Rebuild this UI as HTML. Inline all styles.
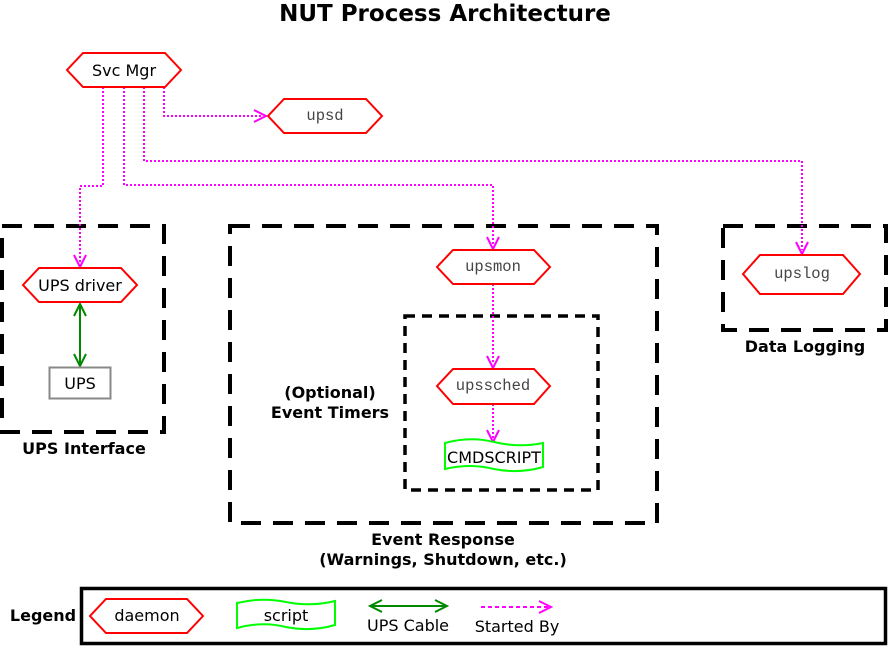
<!DOCTYPE html>
<html><head><meta charset="utf-8"><style>
html,body{margin:0;padding:0;background:#fff}
svg{display:block}
text{font-family:"DejaVu Sans","Liberation Sans",sans-serif}
.m{font-family:"Liberation Mono","DejaVu Sans Mono",monospace;fill:#444;font-size:15.5px}
.b{font-weight:bold;font-size:16px}
.hx{fill:#fff;stroke:#f00;stroke-width:2}
.sb{fill:none;stroke:#f0f;stroke-width:2;stroke-dasharray:2 2}
.ah{fill:none;stroke:#f0f;stroke-width:2}
.d1{fill:none;stroke:#000;stroke-width:4;stroke-dasharray:20 12}
.d2{fill:none;stroke:#000;stroke-width:3.5;stroke-dasharray:10 7}
</style></head><body>
<svg width="890" height="647" viewBox="0 0 890 647" xmlns="http://www.w3.org/2000/svg">
<text x="445" y="21" text-anchor="middle" style="font-weight:bold;font-size:23px">NUT Process Architecture</text>

<rect class="d1" x="2" y="226" width="162" height="206"/>
<rect class="d1" x="230" y="226" width="427" height="297"/>
<rect class="d2" x="405" y="316" width="193" height="174"/>
<rect class="d1" x="723" y="226" width="163" height="104"/>

<polyline class="sb" points="164,87 164,116 262,116"/>
<path class="ah" d="M254,110 L266,116 L254,122"/>
<polyline class="sb" points="144,87 144,161 802,161 802,250"/>
<path class="ah" d="M796,242 L802,254 L808,242"/>
<polyline class="sb" points="124,87 124,185 493,185 493,245"/>
<path class="ah" d="M487,237 L493,249 L499,237"/>
<polyline class="sb" points="103,87 103,186 80,186 80,263"/>
<path class="ah" d="M74,255 L80,267 L86,255"/>
<polyline class="sb" points="493,284 493,364"/>
<path class="ah" d="M487,356 L493,368 L499,356"/>
<polyline class="sb" points="493,404 493,438"/>
<path class="ah" d="M487,430 L493,442 L499,430"/>

<line x1="80" y1="304" x2="80" y2="366" stroke="#080" stroke-width="2"/>
<path d="M74,316 L80,304 L86,316 M74,354 L80,366 L86,354" fill="none" stroke="#080" stroke-width="2"/>

<polygon class="hx" points="83,53 165,53 181,70 165,87 83,87 67,70"/>
<text x="124" y="76" text-anchor="middle" font-size="16">Svc Mgr</text>
<polygon class="hx" points="284,99 366,99 382,116 366,133 284,133 268,116"/>
<text x="325" y="120" text-anchor="middle" class="m">upsd</text>
<polygon class="hx" points="39,268 121,268 137,285 121,302 39,302 23,285"/>
<text x="80" y="291" text-anchor="middle" font-size="16">UPS driver</text>
<rect x="49.5" y="367.5" width="61" height="31" fill="#fff" stroke="#888" stroke-width="2"/>
<text x="80" y="389" text-anchor="middle" font-size="16">UPS</text>
<polygon class="hx" points="453,250 534,250 550,267 534,284 453,284 437,267"/>
<text x="493" y="271" text-anchor="middle" class="m">upsmon</text>
<polygon class="hx" points="453,369 534,369 550,386 534,404 453,404 437,386"/>
<text x="493" y="390" text-anchor="middle" class="m">upssched</text>
<path d="M445,443 Q470,436 494,442 Q519,448 543,443 L543,467 Q519,474 494,469 Q470,463 445,469 Z" fill="#fff" stroke="#0f0" stroke-width="2"/>
<text x="494" y="463" text-anchor="middle" font-size="16">CMDSCRIPT</text>
<polygon class="hx" points="760,255 843,255 860,274 843,294 760,294 743,274"/>
<text x="802" y="278" text-anchor="middle" class="m">upslog</text>

<text x="84" y="454" text-anchor="middle" class="b">UPS Interface</text>
<text x="330" y="398" text-anchor="middle" class="b">(Optional)</text>
<text x="330" y="418" text-anchor="middle" class="b">Event Timers</text>
<text x="443" y="545" text-anchor="middle" class="b">Event Response</text>
<text x="443" y="565" text-anchor="middle" class="b">(Warnings, Shutdown, etc.)</text>
<text x="805" y="352" text-anchor="middle" class="b">Data Logging</text>

<rect x="81.5" y="588.5" width="804" height="55" fill="none" stroke="#000" stroke-width="3.5"/>
<text x="43" y="621" text-anchor="middle" class="b">Legend</text>
<polygon class="hx" points="106,599 187,599 203,616 187,633 106,633 90,616"/>
<text x="147" y="621" text-anchor="middle" font-size="16">daemon</text>
<path d="M237,603 Q262,597 286,602 Q311,607 335,601 L335,625 Q311,632 286,627 Q262,621 237,628 Z" fill="#fff" stroke="#0f0" stroke-width="2"/>
<text x="286" y="621" text-anchor="middle" font-size="16">script</text>
<line x1="370" y1="606" x2="447" y2="606" stroke="#080" stroke-width="2"/>
<path d="M382,600 L370,606 L382,612 M435,600 L447,606 L435,612" fill="none" stroke="#080" stroke-width="2"/>
<text x="408" y="631" text-anchor="middle" font-size="16">UPS Cable</text>
<line x1="481" y1="607" x2="549" y2="607" stroke="#f0f" stroke-width="2" stroke-dasharray="4 3"/>
<path d="M539,601 L551,607 L539,613" class="ah"/>
<text x="517" y="632" text-anchor="middle" font-size="16">Started By</text>
</svg>
</body></html>
